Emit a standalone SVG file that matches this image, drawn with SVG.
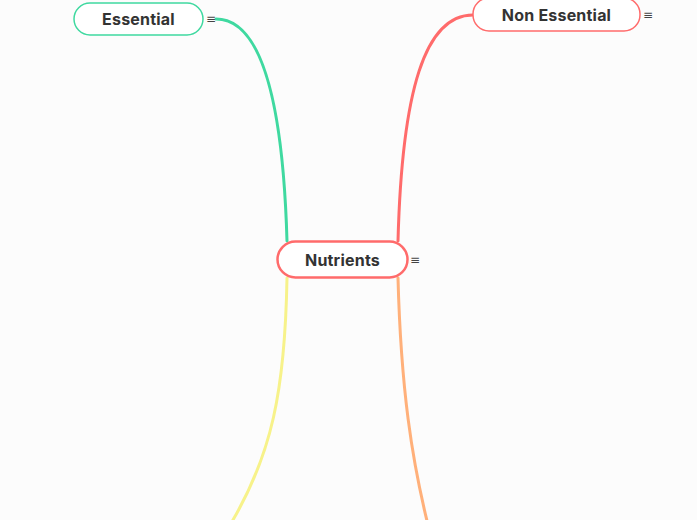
<svg xmlns="http://www.w3.org/2000/svg" width="697" height="520" viewBox="0 0 697 520">
<style>
.lbl{font-family:Inter,"Noto Sans","Liberation Sans",sans-serif;font-weight:700;font-size:16px;letter-spacing:0.2px;fill:#333;text-anchor:middle;dominant-baseline:central}
.ic{font-family:"DejaVu Sans",sans-serif;font-size:12px;fill:#444;text-anchor:middle;dominant-baseline:central}
.conn{fill:none;stroke-width:3;stroke-linecap:round}
</style>
<rect width="697" height="520" fill="#fcfcfc"/>
<g id="connectors">
<path class="conn" stroke="#3fd9a0" d="M216 19 C252 19 282 70 287 241"/>
<path class="conn" stroke="#ff6b6b" d="M398 241 C402 90 425 15 473 15"/>
<path class="conn" stroke="#f7f28a" d="M287 278 C285 390 272 455 230 525"/>
<path class="conn" stroke="#ffb07a" d="M398 278 C401 390 412 460 428 525"/>
</g>
<g id="essential">
<rect x="74" y="3" width="129" height="32" rx="16" fill="#fff" stroke="#3fd9a0" stroke-width="1.5"/>
<text class="lbl" x="138.5" y="19">Essential</text>
<text class="ic" x="211" y="19">≡</text>
</g>
<g id="non-essential">
<rect x="473" y="-2" width="167" height="33" rx="16" fill="#fff" stroke="#ff6b6b" stroke-width="1.5"/>
<text class="lbl" x="556.5" y="15">Non Essential</text>
<text class="ic" x="648" y="15">≡</text>
</g>
<g id="nutrients">
<rect x="277.5" y="241.5" width="130" height="36" rx="18" fill="#fff" stroke="#ff6b6b" stroke-width="2.5"/>
<text class="lbl" x="342.5" y="260">Nutrients</text>
<text class="ic" x="415" y="260">≡</text>
</g>
</svg>
